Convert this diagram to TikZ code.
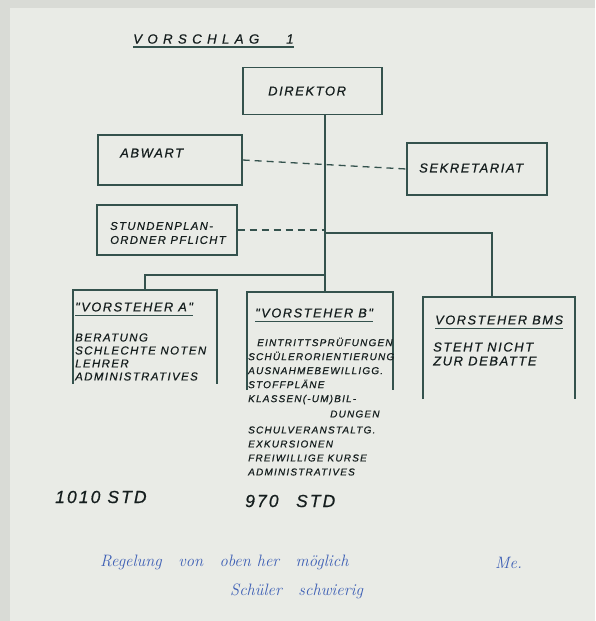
\documentclass[tikz,border=0pt]{standalone}
\usepackage{fontspec}
\newfontfamily\handfont[LetterSpace=12,FakeBold=0.6]{Liberation Sans}
\newfontfamily\titlefont[LetterSpace=40,FakeBold=0.6]{Liberation Sans}
\usetikzlibrary{positioning,calc}
\definecolor{paper}{HTML}{E9EBE6}
\definecolor{desk}{HTML}{D9DBD6}
\definecolor{pen}{HTML}{34524D}
\definecolor{ink}{HTML}{151E1E}
\definecolor{biro}{HTML}{3D5FB5}

\begin{document}
\begin{tikzpicture}[x=1pt,y=-1pt,
  box/.style={draw=pen,line width=1.4pt,inner sep=0pt},
  frame/.style={draw=pen,line width=1.4pt},
  link/.style={draw=pen,line width=1.3pt},
  dlink/.style={draw=pen,line width=1.3pt,dash pattern=on 7pt off 5pt},
  hand/.style={font=\handfont\itshape\fontsize{13}{14}\selectfont,text=ink,anchor=west,inner sep=0pt},
  handm/.style={hand,font=\handfont\itshape\fontsize{10}{12}\selectfont},
  handl/.style={hand,font=\handfont\itshape\fontsize{11.5}{12}\selectfont},
  handh/.style={hand,font=\handfont\itshape\fontsize{12.8}{14}\selectfont},
  handb/.style={hand,font=\handfont\itshape\fontsize{17.5}{18}\selectfont},
  biro/.style={font=\itshape\fontsize{16.5}{18}\selectfont,text=biro,anchor=west,inner sep=0pt},
  ]
  \useasboundingbox (0,0) rectangle (595,621);
  \fill[desk] (0,0) rectangle (595,621);
  \fill[paper] (10,8) rectangle (595,621);

  \node[hand,font=\titlefont\itshape\fontsize{13.3}{14}\selectfont] (title) at (133,39) {VORSCHLAG\hspace{27pt}1};
  \draw[link] ([yshift=-3pt]title.south west) -- ([yshift=-3pt]title.south east);

  \node[box,minimum width=139pt,minimum height=47pt] (dir) at (312.5,91) {};
  \node[hand] (dirl) at (268,91) {DIREKTOR};
  \node[box,minimum width=144pt,minimum height=50pt] (abw) at (170,160) {};
  \node[hand] (abwl) at (120,153) {ABWART};
  \node[box,minimum width=140pt,minimum height=52pt] (sek) at (477,169) {};
  \node[hand] (sekl) at (419,168) {SEKRETARIAT};
  \node[box,minimum width=140pt,minimum height=50pt] (stp) at (167,230) {};
  \node[handl,align=left,font=\handfont\itshape\fontsize{11.3}{14}\selectfont] (stpl) at (110,233) {STUNDENPLAN-\\ORDNER PFLICHT};

  \coordinate (va-nw) at (73,290);
  \coordinate (va-ne) at (217,290);
  \coordinate (va-top) at (145,290);
  \coordinate (vb-nw) at (247,292);
  \coordinate (vb-ne) at (393,292);
  \coordinate (vb-top) at (325,292);
  \coordinate (vc-nw) at (423,297);
  \coordinate (vc-ne) at (575,297);
  \coordinate (vc-top) at (492,297);
  \draw[frame] ($(va-nw)+(0,94)$) -- (va-nw) -- (va-ne) -- ++(0,94);
  \draw[frame] ($(vb-nw)+(0,98)$) -- (vb-nw) -- (vb-ne) -- ++(0,98);
  \draw[frame] ($(vc-nw)+(0,102)$) -- (vc-nw) -- (vc-ne) -- ++(0,102);

  \draw[link] (dir.south -| vb-top) -- (vb-top);
  \draw[link] (vb-top |- 0,275) -| (va-top);
  \draw[dlink] (abw.east) -- (sek.west);
  \draw[dlink] (stp.east) -- (stp.east -| vb-top);
  \draw[link] (stp.east -| vb-top) -- ++(0,3) -| (vc-top);

  \node[handh] (vala) at (75,307) {"VORSTEHER A"};
  \draw[link] ([yshift=-4pt]vala.south west) -- ([yshift=-4pt]vala.south east);
  \node[handl,align=left] (lista) at (75,357) {BERATUNG\\[1pt]SCHLECHTE NOTEN\\[1pt]LEHRER\\[1pt]ADMINISTRATIVES};

  \node[handh] (valb) at (255,313) {"VORSTEHER B"};
  \draw[link] ([yshift=-4pt]valb.south west) -- ([yshift=-4pt]valb.south east);
  \node[handm] (listb1) at (257,342) {EINTRITTSPRÜFUNGEN};
  \node[handm,align=left] (listb) at (248,378) {SCHÜLERORIENTIERUNG\\[2pt]AUSNAHMEBEWILLIGG.\\[2pt]STOFFPLÄNE\\[2pt]KLASSEN(-UM)BIL-};
  \node[handm] (listb2) at (330,414) {DUNGEN};
  \node[handm,align=left] (listb3) at (248,451) {SCHULVERANSTALTG.\\[2pt]EXKURSIONEN\\[2pt]FREIWILLIGE KURSE\\[2pt]ADMINISTRATIVES};

  \node[handh] (valc) at (435,320) {VORSTEHER BMS};
  \draw[link] ([yshift=-4pt]valc.south west) -- ([yshift=-4pt]valc.south east);
  \node[hand,align=left] (listc) at (433,354) {STEHT NICHT\\ZUR DEBATTE};

  \node[handb] (stda) at (55,497) {1010 STD};
  \node[handb] (stdb) at (245,501) {970\quad STD};

  \node[biro] (note1) at (100,562) {Regelung\quad von\quad oben her\quad möglich};
  \node[biro] (note2) at (230,591) {Schüler\quad schwierig};
  \node[biro] (sign) at (495,563) {Me.};
\end{tikzpicture}
\end{document}
